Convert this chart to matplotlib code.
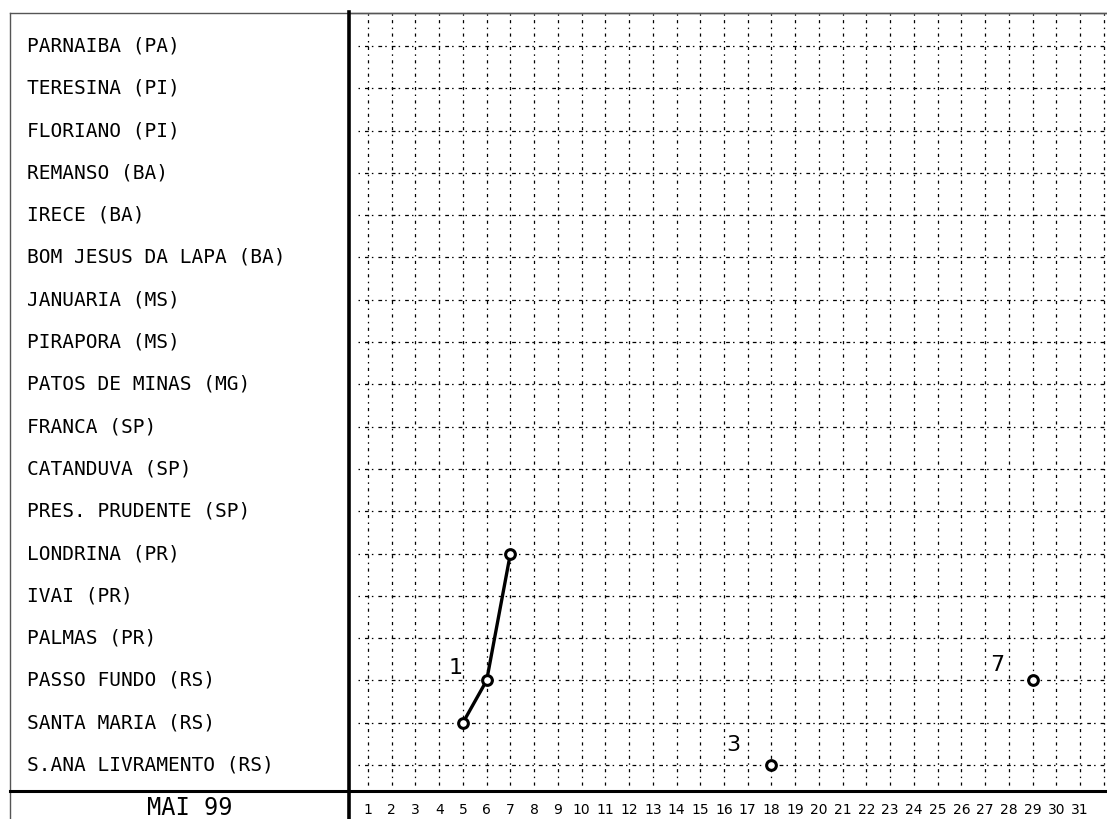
import numpy as np
import matplotlib
matplotlib.use("Agg")
import matplotlib.pyplot as plt
from matplotlib.lines import Line2D
from matplotlib.transforms import blended_transform_factory

# stations, top to bottom as in the chart
stations = ["PARNAIBA (PA)", "TERESINA (PI)", "FLORIANO (PI)", "REMANSO (BA)",
            "IRECE (BA)", "BOM JESUS DA LAPA (BA)", "JANUARIA (MS)", "PIRAPORA (MS)",
            "PATOS DE MINAS (MG)", "FRANCA (SP)", "CATANDUVA (SP)",
            "PRES. PRUDENTE (SP)", "LONDRINA (PR)", "IVAI (PR)", "PALMAS (PR)",
            "PASSO FUNDO (RS)", "SANTA MARIA (RS)", "S.ANA LIVRAMENTO (RS)"]
days = list(range(1, 32))
month_label = "MAI 99"

# tracks: (number, days, stations)
track_names = ["1", "3", "7"]
track_days = [[5, 6, 7], [18], [29]]
track_stations = [["SANTA MARIA (RS)", "PASSO FUNDO (RS)", "LONDRINA (PR)"],
                  ["S.ANA LIVRAMENTO (RS)"],
                  ["PASSO FUNDO (RS)"]]


def row(s):
    return len(stations) - 1 - stations.index(s)


W, H = 1107, 819


def fx(px):
    return px / W


def fy(py):
    return 1 - py / H


fig = plt.figure(figsize=(W / 100, H / 100), dpi=100)
ax = fig.add_axes([fx(349), fy(791), fx(1112) - fx(349), fy(13) - fy(791)])

px_day = (1080 - 368) / 30
px_row = (765 - 46) / 17
ax.set_xlim(1 - (368 - 349) / px_day, 1 + (1112 - 368) / px_day)
ax.set_ylim(-(791 - 765) / px_row, 17 + (46 - 13) / px_row)

# grid
for d in range(1, 33):
    ax.axvline(d, color="black", lw=0.9, ls=(0, (1.2, 3.5, 2.5, 3.5)), zorder=1)
for i in range(len(stations)):
    ax.axhline(i, xmin=(358 - 349) / (1112 - 349), color="black", lw=0.9,
               ls=(0, (1.2, 4, 3, 2.5)), zorder=1)

for name, dd, ss in zip(track_names, track_days, track_stations):
    yy = [row(s) for s in ss]
    ax.plot(dd, yy, color="black", lw=2.4, marker="o", ms=7, mfc="white",
            mec="black", mew=2.2, zorder=3)

ax.text(4.68, row("PASSO FUNDO (RS)") + 0.3, "1", fontsize=16, ha="center",
        va="center", color="black")
ax.text(16.4, row("S.ANA LIVRAMENTO (RS)") + 0.47, "3", fontsize=16, ha="center",
        va="center", color="black")
ax.text(27.5, row("PASSO FUNDO (RS)") + 0.36, "7", fontsize=16, ha="center",
        va="center", color="black")

ax.set_xticks([])
ax.set_yticks([])
for sp in ["right", "bottom", "left"]:
    ax.spines[sp].set_visible(False)
ax.spines["top"].set_color("#555555")
ax.spines["top"].set_linewidth(1)

# station labels in the left panel
lab_tr = blended_transform_factory(fig.transFigure, ax.transData)
for s in stations:
    ax.text(fx(27), row(s), s, transform=lab_tr, fontsize=14,
            family="DejaVu Sans Mono", ha="left", va="center")

# day numbers under the grid
for d in days:
    ax.text(d, -(803 - 765) / px_row, str(d), fontsize=10, ha="center", va="top",
            clip_on=False)
fig.text(fx(190), fy(796), month_label, fontsize=17, family="DejaVu Sans Mono",
         ha="center", va="top")

# frame lines
fig.add_artist(Line2D([fx(10), fx(1107)], [fy(13), fy(13)], color="#555555", lw=1))
fig.add_artist(Line2D([fx(10), fx(10)], [fy(13), fy(819)], color="#555555", lw=1))
fig.add_artist(Line2D([fx(10), fx(1107)], [fy(791), fy(791)], color="black", lw=2.2))
fig.add_artist(Line2D([fx(349), fx(349)], [fy(12), fy(819)], color="black", lw=2.6))

fig.savefig("out.png", dpi=100)
